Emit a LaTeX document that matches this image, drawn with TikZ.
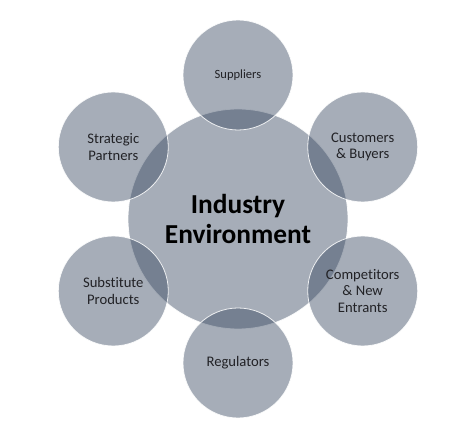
\documentclass[tikz,border=0pt]{standalone}
\usepackage{fontspec}
\setmainfont{Carlito}[Ligatures=NoCommon]
\usepackage{tikz}
\definecolor{ringGray}{RGB}{57,73,97}
\definecolor{labelInk}{RGB}{34,34,38}
\newcommand\hubSize{220bp}
\newcommand\spokeSize{110bp}
\newcommand\spokeDist{144}

\begin{document}
\begin{tikzpicture}[x=1bp,y=1bp,
    blob/.style={circle, inner sep=0pt, fill=ringGray, fill opacity=0.45,
      draw=white, draw opacity=0.85, line width=0.8bp, text opacity=1, align=center},
    hub/.style={blob, minimum size=\hubSize, text=black,
      font=\fontsize{27.5}{31}\selectfont\bfseries},
    spoke/.style={blob, minimum size=\spokeSize, text=labelInk,
      font=\fontsize{14.7}{16.3}\selectfont}]

    \useasboundingbox (-238,-218) rectangle (230,219);

    \node[hub] (industry) at (0,0) {Industry\\Environment};

    \node[spoke, font=\fontsize{12.6}{15}\selectfont] (suppliers) at (90:\spokeDist) {Suppliers};
    \node[spoke] (customers) at (30:\spokeDist) {Customers\\\& Buyers};
    \node[spoke] (competitors) at (-30:\spokeDist) {Competitors\\\& New\\Entrants};
    \node[spoke] (regulators) at (-90:\spokeDist) {Regulators};
    \node[spoke] (substitutes) at (210:\spokeDist) {Substitute\\Products};
    \node[spoke] (partners) at (150:\spokeDist) {Strategic\\Partners};

\end{tikzpicture}
\end{document}
